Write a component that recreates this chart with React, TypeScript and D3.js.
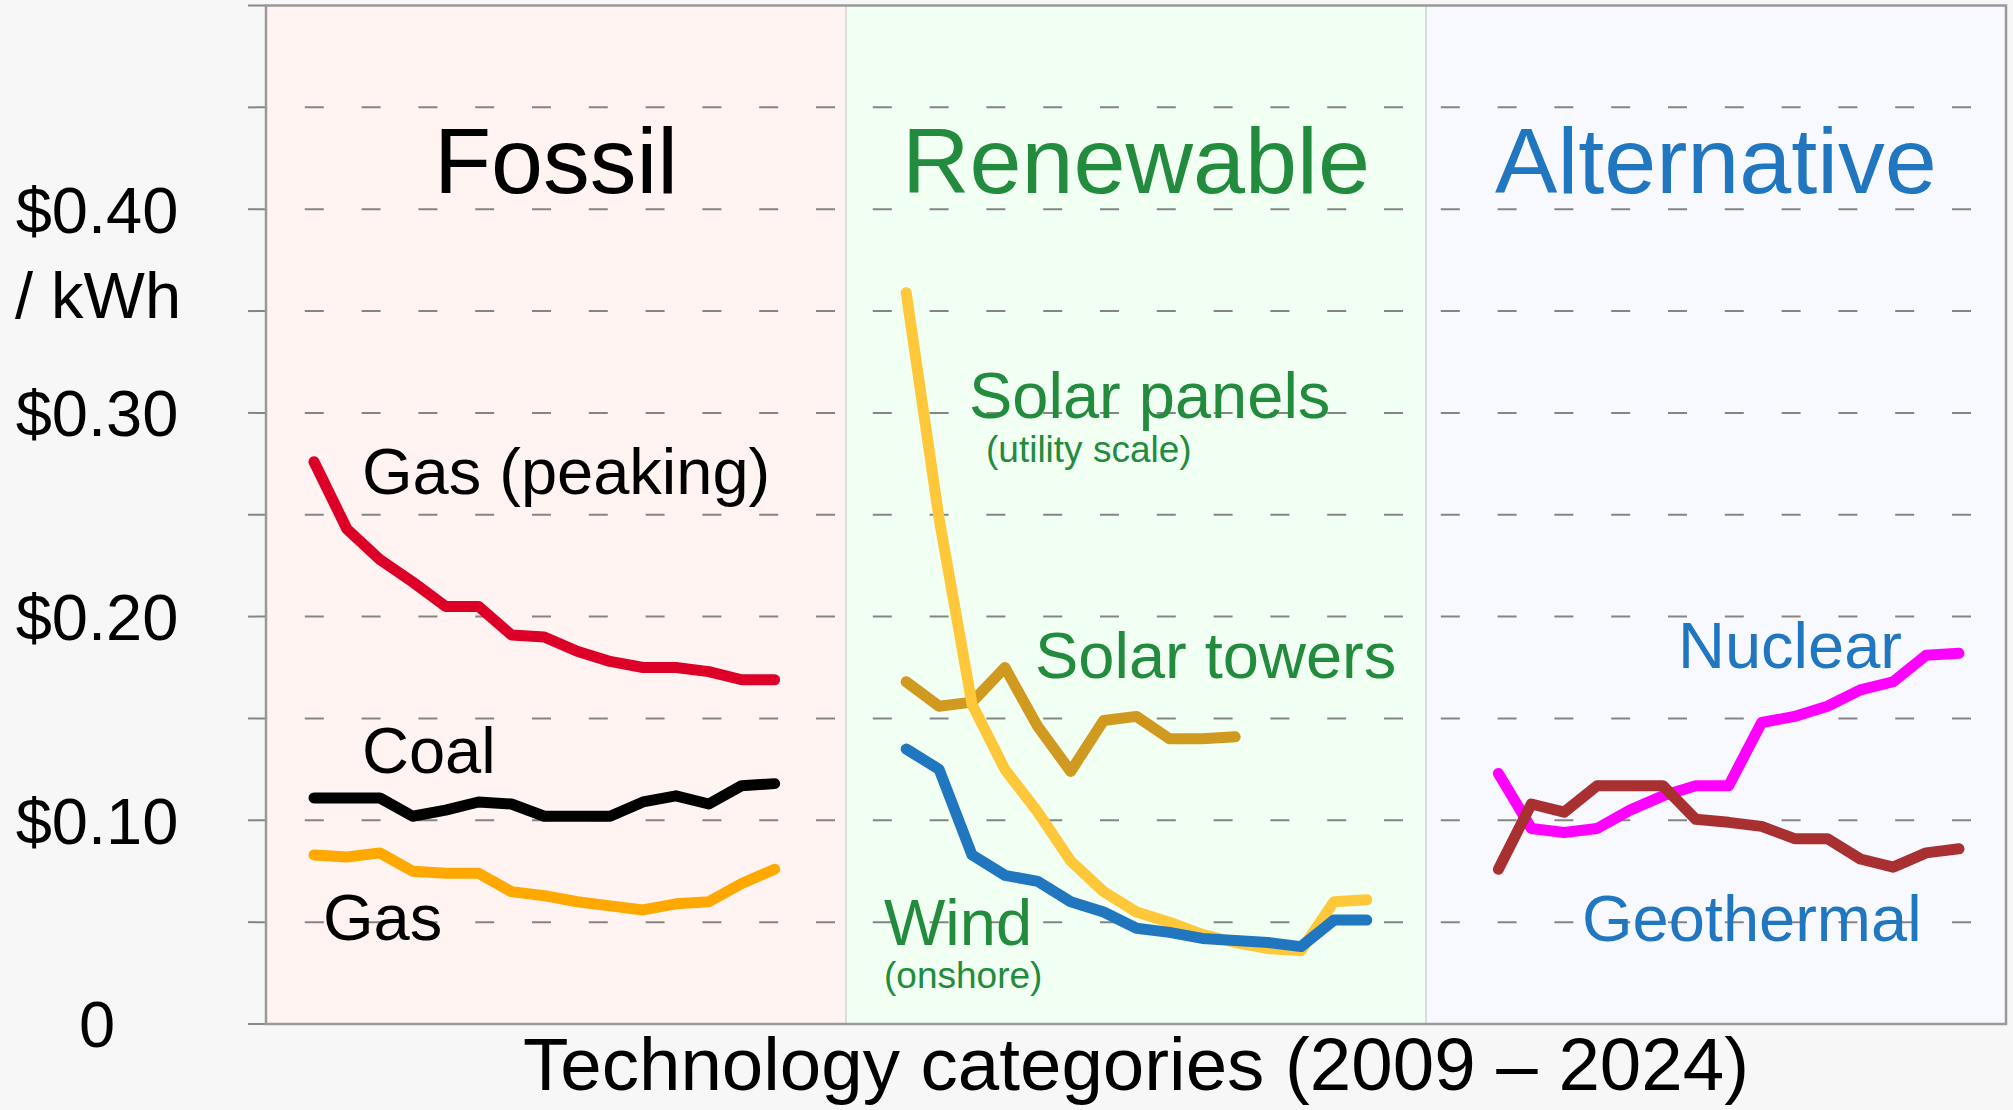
import React from 'react'
import * as d3 from 'd3'

// Lazard-style LCOE, $ per kWh, one value per report year
const years = ['2009', '2010', '2011', '2012', '2013', '2014', '2015', '2016', '2017', '2018', '2019', '2020', '2021', '2023', '2024']

const gasPeaking = [0.276, 0.243, 0.228, 0.217, 0.205, 0.205, 0.191, 0.190, 0.183, 0.178, 0.175, 0.175, 0.173, 0.169, 0.169]
const coal = [0.111, 0.111, 0.111, 0.102, 0.105, 0.109, 0.108, 0.102, 0.102, 0.102, 0.109, 0.112, 0.108, 0.117, 0.118]
const gas = [0.083, 0.082, 0.084, 0.075, 0.074, 0.074, 0.065, 0.063, 0.060, 0.058, 0.056, 0.059, 0.060, 0.069, 0.076]

const solarPanels = [0.359, 0.248, 0.157, 0.125, 0.104, 0.080, 0.065, 0.055, 0.050, 0.044, 0.040, 0.037, 0.036, 0.060, 0.061]
const solarTowers = [0.168, 0.156, 0.158, 0.175, 0.146, 0.124, 0.149, 0.151, 0.140, 0.140, 0.141]
const wind = [0.135, 0.125, 0.083, 0.073, 0.070, 0.060, 0.055, 0.047, 0.045, 0.042, 0.041, 0.040, 0.038, 0.051, 0.051]

const nuclear = [0.123, 0.096, 0.094, 0.096, 0.105, 0.112, 0.117, 0.117, 0.148, 0.151, 0.156, 0.164, 0.168, 0.181, 0.182]
const geothermal = [0.076, 0.108, 0.104, 0.117, 0.117, 0.117, 0.1005, 0.099, 0.097, 0.091, 0.091, 0.081, 0.077, 0.084, 0.086]

const categories = ['Fossil', 'Renewable', 'Alternative']
const yTicks = [0, 0.05, 0.1, 0.15, 0.2, 0.25, 0.3, 0.35, 0.4, 0.45, 0.5]
const yLabels = ['0', '$0.10', '$0.20', '$0.30', '$0.40']

const W = 2013
const H = 1110
const FONT = '"Liberation Sans", Arial, sans-serif'
const GREEN = '#228b3d'
const BLUE = '#2176c0'

const series = [
  { group: 0, values: gasPeaking, color: '#dc0028' },
  { group: 0, values: coal, color: '#000000' },
  { group: 0, values: gas, color: '#ffa800' },
  { group: 1, values: solarTowers, color: '#d09a20' },
  { group: 1, values: solarPanels, color: '#ffc83a' },
  { group: 1, values: wind, color: '#2176c0' },
  { group: 2, values: nuclear, color: '#ff00ff' },
  { group: 2, values: geothermal, color: '#a83030' },
]

const App = () => {
  const left = 266
  const right = 2006
  const top = 5.5
  const bottom = 1024

  const y = d3.scaleLinear().domain([0, 0.5]).range([bottom, top])
  const panel = d3.scaleBand().domain(categories).range([left, right])
  // each category holds the 15 report years, 18 slots apart
  const slot = d3.scaleLinear().domain([0, 50]).range([314, 1959])
  const line = (g: number) => d3.line<number>()
    .x((d, i) => slot(g * 18 + i))
    .y((d) => y(d))

  const panelFill = ['#fff4f2', '#f2fff3', '#f8f8ff']
  const titleColor = ['#000', GREEN, BLUE]

  return (
    <svg width={W} height={H} style={{ position: 'absolute', left: 0, top: 0 }} fontFamily={FONT}>
      <rect x={0} y={0} width={W} height={H} fill="#f7f7f7" />
      {categories.map((c, i) => (
        <rect key={c} x={panel(c)} y={top} width={panel.bandwidth()} height={bottom - top} fill={panelFill[i]} />
      ))}
      {categories.slice(1).map((c) => (
        <line key={c} x1={panel(c)} x2={panel(c)} y1={top} y2={bottom} stroke="#dcdcdc" strokeWidth={2} />
      ))}

      {yTicks.slice(1, -1).map((t) => (
        <line key={t} x1={248} x2={right} y1={y(t)} y2={y(t)} stroke="#858585" strokeWidth={2} strokeDasharray="19 37.8" />
      ))}
      <line x1={248} x2={left} y1={y(0)} y2={y(0)} stroke="#888" strokeWidth={2} />
      <line x1={248} x2={left} y1={y(0.5)} y2={y(0.5)} stroke="#888" strokeWidth={2} />
      <rect x={left} y={top} width={right - left} height={bottom - top} fill="none" stroke="#999" strokeWidth={2.5} />

      {yLabels.map((l, i) => (
        <text key={l} x={97} y={y(i * 0.1)} dy="0.36em" textAnchor="middle" fontSize={65} fill="#000">{l}</text>
      ))}
      <text x={98} y={y(0.4) + 85} dy="0.36em" textAnchor="middle" fontSize={65} fill="#000">/ kWh</text>

      {categories.map((c, i) => (
        <text key={c} x={panel(c)! + panel.bandwidth() / 2} y={193} textAnchor="middle" fontSize={93.5} fill={titleColor[i]}>{c}</text>
      ))}

      {series.map((s, i) => (
        <path key={i} d={line(s.group)(s.values) || ''} fill="none" stroke={s.color} strokeWidth={11} strokeLinejoin="round" strokeLinecap="round" />
      ))}

      <g fontSize={65}>
        <text x={362} y={494} fill="#000">Gas (peaking)</text>
        <text x={362} y={773} fill="#000">Coal</text>
        <text x={323} y={940} fill="#000">Gas</text>
        <text x={969} y={418} fill={GREEN}>Solar panels</text>
        <text x={986} y={462} fill={GREEN} fontSize={37}>(utility scale)</text>
        <text x={1035} y={678} fill={GREEN}>Solar towers</text>
        <text x={884} y={945} fill={GREEN}>Wind</text>
        <text x={884} y={988} fill={GREEN} fontSize={37}>(onshore)</text>
        <text x={1902} y={668} fill={BLUE} textAnchor="end">Nuclear</text>
        <text x={1582} y={941} fill={BLUE}>Geothermal</text>
      </g>

      <text x={1136} y={1090} textAnchor="middle" fontSize={74.5} fill="#000">
        Technology categories ({years[0]} – {years[years.length - 1]})
      </text>
    </svg>
  )
}

export default App
